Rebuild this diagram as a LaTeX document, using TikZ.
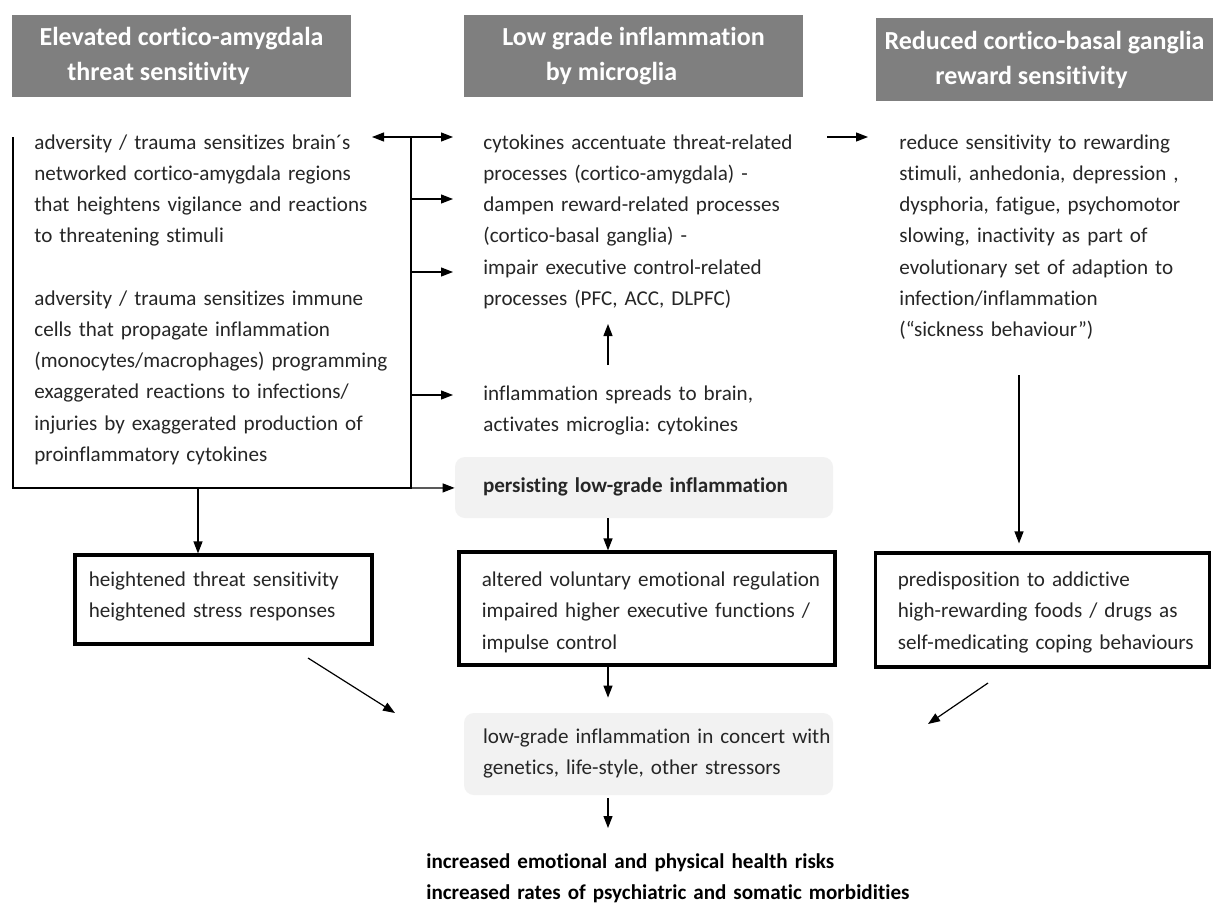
\documentclass[tikz,border=0pt]{standalone}
\usepackage{fontspec}
\setmainfont[Ligatures=NoCommon]{Carlito}
\usepackage{tikz}
\usetikzlibrary{arrows.meta,positioning,calc}

\definecolor{headgray}{HTML}{7F7F7F}
\definecolor{softgray}{HTML}{F2F2F2}
\definecolor{inkgray}{HTML}{262626}
\newcommand{\bodyfont}{\fontsize{10.55}{15.65}\selectfont}
\frenchspacing

\begin{document}
\begin{tikzpicture}[x=0.5pt, y=-0.5pt,
        head/.style={fill=headgray, text=white, font=\bfseries\fontsize{13}{17.5}\selectfont,
          align=center, minimum width=169.5pt, minimum height=41pt, inner sep=0pt},
        txt/.style={text=inkgray, font=\bodyfont, text width=190pt, align=left,
          anchor=base west, inner sep=0pt},
        thickbox/.style={draw=black, line width=1.6pt, inner sep=0pt},
        softbox/.style={fill=softgray, rounded corners=5pt, inner sep=0pt},
        line/.style={black, line width=0.6pt},
        arr/.style={black, line width=0.6pt, -{Triangle[length=6pt,width=4.5pt]}},
        darr/.style={black, line width=0.6pt, {Triangle[length=6pt,width=4.5pt]}-{Triangle[length=6pt,width=4.5pt]}}
      ]
        \useasboundingbox[fill=white] (0,0) rectangle (1213,904);

        % Kopfzeilen
        \node[head] (hthreat) at (181.5,56) {Elevated cortico-amygdala\\threat sensitivity\hspace*{23pt}};
        \node[head] (hinfl) at (633.5,56) {Low grade inflammation\\by microglia\hspace*{22pt}};
        \node[head, minimum width=168.5pt, minimum height=41.5pt] (hreward) at (1044.5,59.5)
          {Reduced cortico-basal ganglia\\reward sensitivity\hspace*{13pt}};

        % linke Spalte
        \node[txt] (advbrain) at (34,149) {adversity / trauma sensitizes brain´s\\
          networked cortico-amygdala regions\\that heightens vigilance and reactions\\
          to threatening stimuli};
        \node[txt] (advimmune) at (34,305) {adversity / trauma sensitizes immune\\
          cells that propagate inflammation\\(monocytes/macrophages) programming\\
          exaggerated reactions to infections/\\injuries by exaggerated production of\\
          proinflammatory cytokines};

        % mittlere Spalte
        \node[txt] (cytok) at (483,149) {cytokines accentuate threat-related\\
          processes (cortico-amygdala) -\\dampen reward-related processes\\
          (cortico-basal ganglia) -\\impair executive control-related\\
          processes (PFC, ACC, DLPFC)};
        \node[txt] (spread) at (483,400) {inflammation spreads to brain,\\
          activates microglia: cytokines};
        \node[softbox, minimum width=189pt, minimum height=30.5pt] (persist) at (644,487.5) {};
        \node[txt, font=\bodyfont\bfseries] (persisttxt) at ([shift={(14pt,-18pt)}]persist.north west)
          {persisting low-grade inflammation};

        % rechte Spalte
        \node[txt] (reduce) at (899,149) {reduce sensitivity to rewarding\\
          stimuli, anhedonia, depression ,\\dysphoria, fatigue, psychomotor\\
          slowing, inactivity as part of\\evolutionary set of adaption to\\
          infection/inflammation\\(“sickness behaviour”)};

        % Folgen
        \node[thickbox, minimum width=148.5pt, minimum height=44.5pt] (threat) at (223.5,599.5) {};
        \node[txt] (threattxt) at ([shift={(7.5pt,-16.5pt)}]threat.north west)
          {heightened threat sensitivity\\heightened stress responses};
        \node[thickbox, minimum width=188pt, minimum height=56.5pt] (regul) at (647,608.5) {};
        \node[txt] (regultxt) at ([shift={(12pt,-18pt)}]regul.north west)
          {altered voluntary emotional regulation\\impaired higher executive functions /\\
          impulse control};
        \node[thickbox, minimum width=167pt, minimum height=57pt] (addict) at (1042.5,610) {};
        \node[txt] (addicttxt) at ([shift={(11.75pt,-17.5pt)}]addict.north west)
          {predisposition to addictive\\high-rewarding foods / drugs as\\
          self-medicating coping behaviours};
        \node[softbox, minimum width=184.5pt, minimum height=41pt] (concert) at (648.5,754) {};
        \node[txt] (concerttxt) at ([shift={(9.5pt,-15.5pt)}]concert.north west)
          {low-grade inflammation in concert with\\genetics, life-style, other stressors};
        \node[txt, text width=260pt, text=black, font=\bodyfont\bfseries] (risks) at (426,868)
          {increased emotional and physical health risks\\
          increased rates of psychiatric and somatic morbidities};

        % Rahmen und Verteiler
        \coordinate (ftop) at (13,137);
        \coordinate (bustop) at (411,137);
        \coordinate (busbot) at (411,488);
        \draw[line] (ftop) |- (busbot) -- (bustop);

        % Pfeile vom Verteiler
        \coordinate (lefttip) at (372,137);
        \coordinate (midtip) at (453,137);
        \coordinate (todampen) at (453,199);
        \coordinate (toimpair) at (453,272);
        \coordinate (tospread) at (453,395);
        \draw[darr] (lefttip) -- (midtip);
        \draw[arr] (bustop |- todampen) -- (todampen);
        \draw[arr] (bustop |- toimpair) -- (toimpair);
        \draw[arr] (bustop |- tospread) -- (tospread);
        \draw[arr] (busbot) -- (persist);

        % oben rechts
        \coordinate (rfrom) at (827,137);
        \coordinate (rto) at (868,137);
        \draw[arr] (rfrom) -- (rto);

        % Mitte
        \coordinate (upfrom) at (608,365);
        \coordinate (upto) at (608,324);
        \coordinate (outtip) at (608,828);
        \draw[arr] (upfrom) -- (upto);
        \draw[arr] (persist.south -| upfrom) -- (regul.north -| upfrom);
        \draw[arr, shorten >=7.5pt] (regul.south -| upfrom) -- (concert.north -| upfrom);
        \draw[arr] ([yshift=-1.5pt]concert.south -| upfrom) -- (outtip);

        % nach unten
        \coordinate (leftdrop) at (198,488);
        \coordinate (rdrop) at (1019,375);
        \draw[arr] (leftdrop) -- (leftdrop |- threat.north);
        \draw[arr, shorten >=4pt] (rdrop) -- (rdrop |- addict.north);

        % schraeg
        \coordinate (dlfrom) at (308,658);
        \coordinate (dlto) at (395,713);
        \coordinate (drfrom) at (988,683);
        \coordinate (drto) at (928,724);
        \draw[arr] (dlfrom) -- (dlto);
        \draw[arr] (drfrom) -- (drto);
      \end{tikzpicture}
\end{document}
